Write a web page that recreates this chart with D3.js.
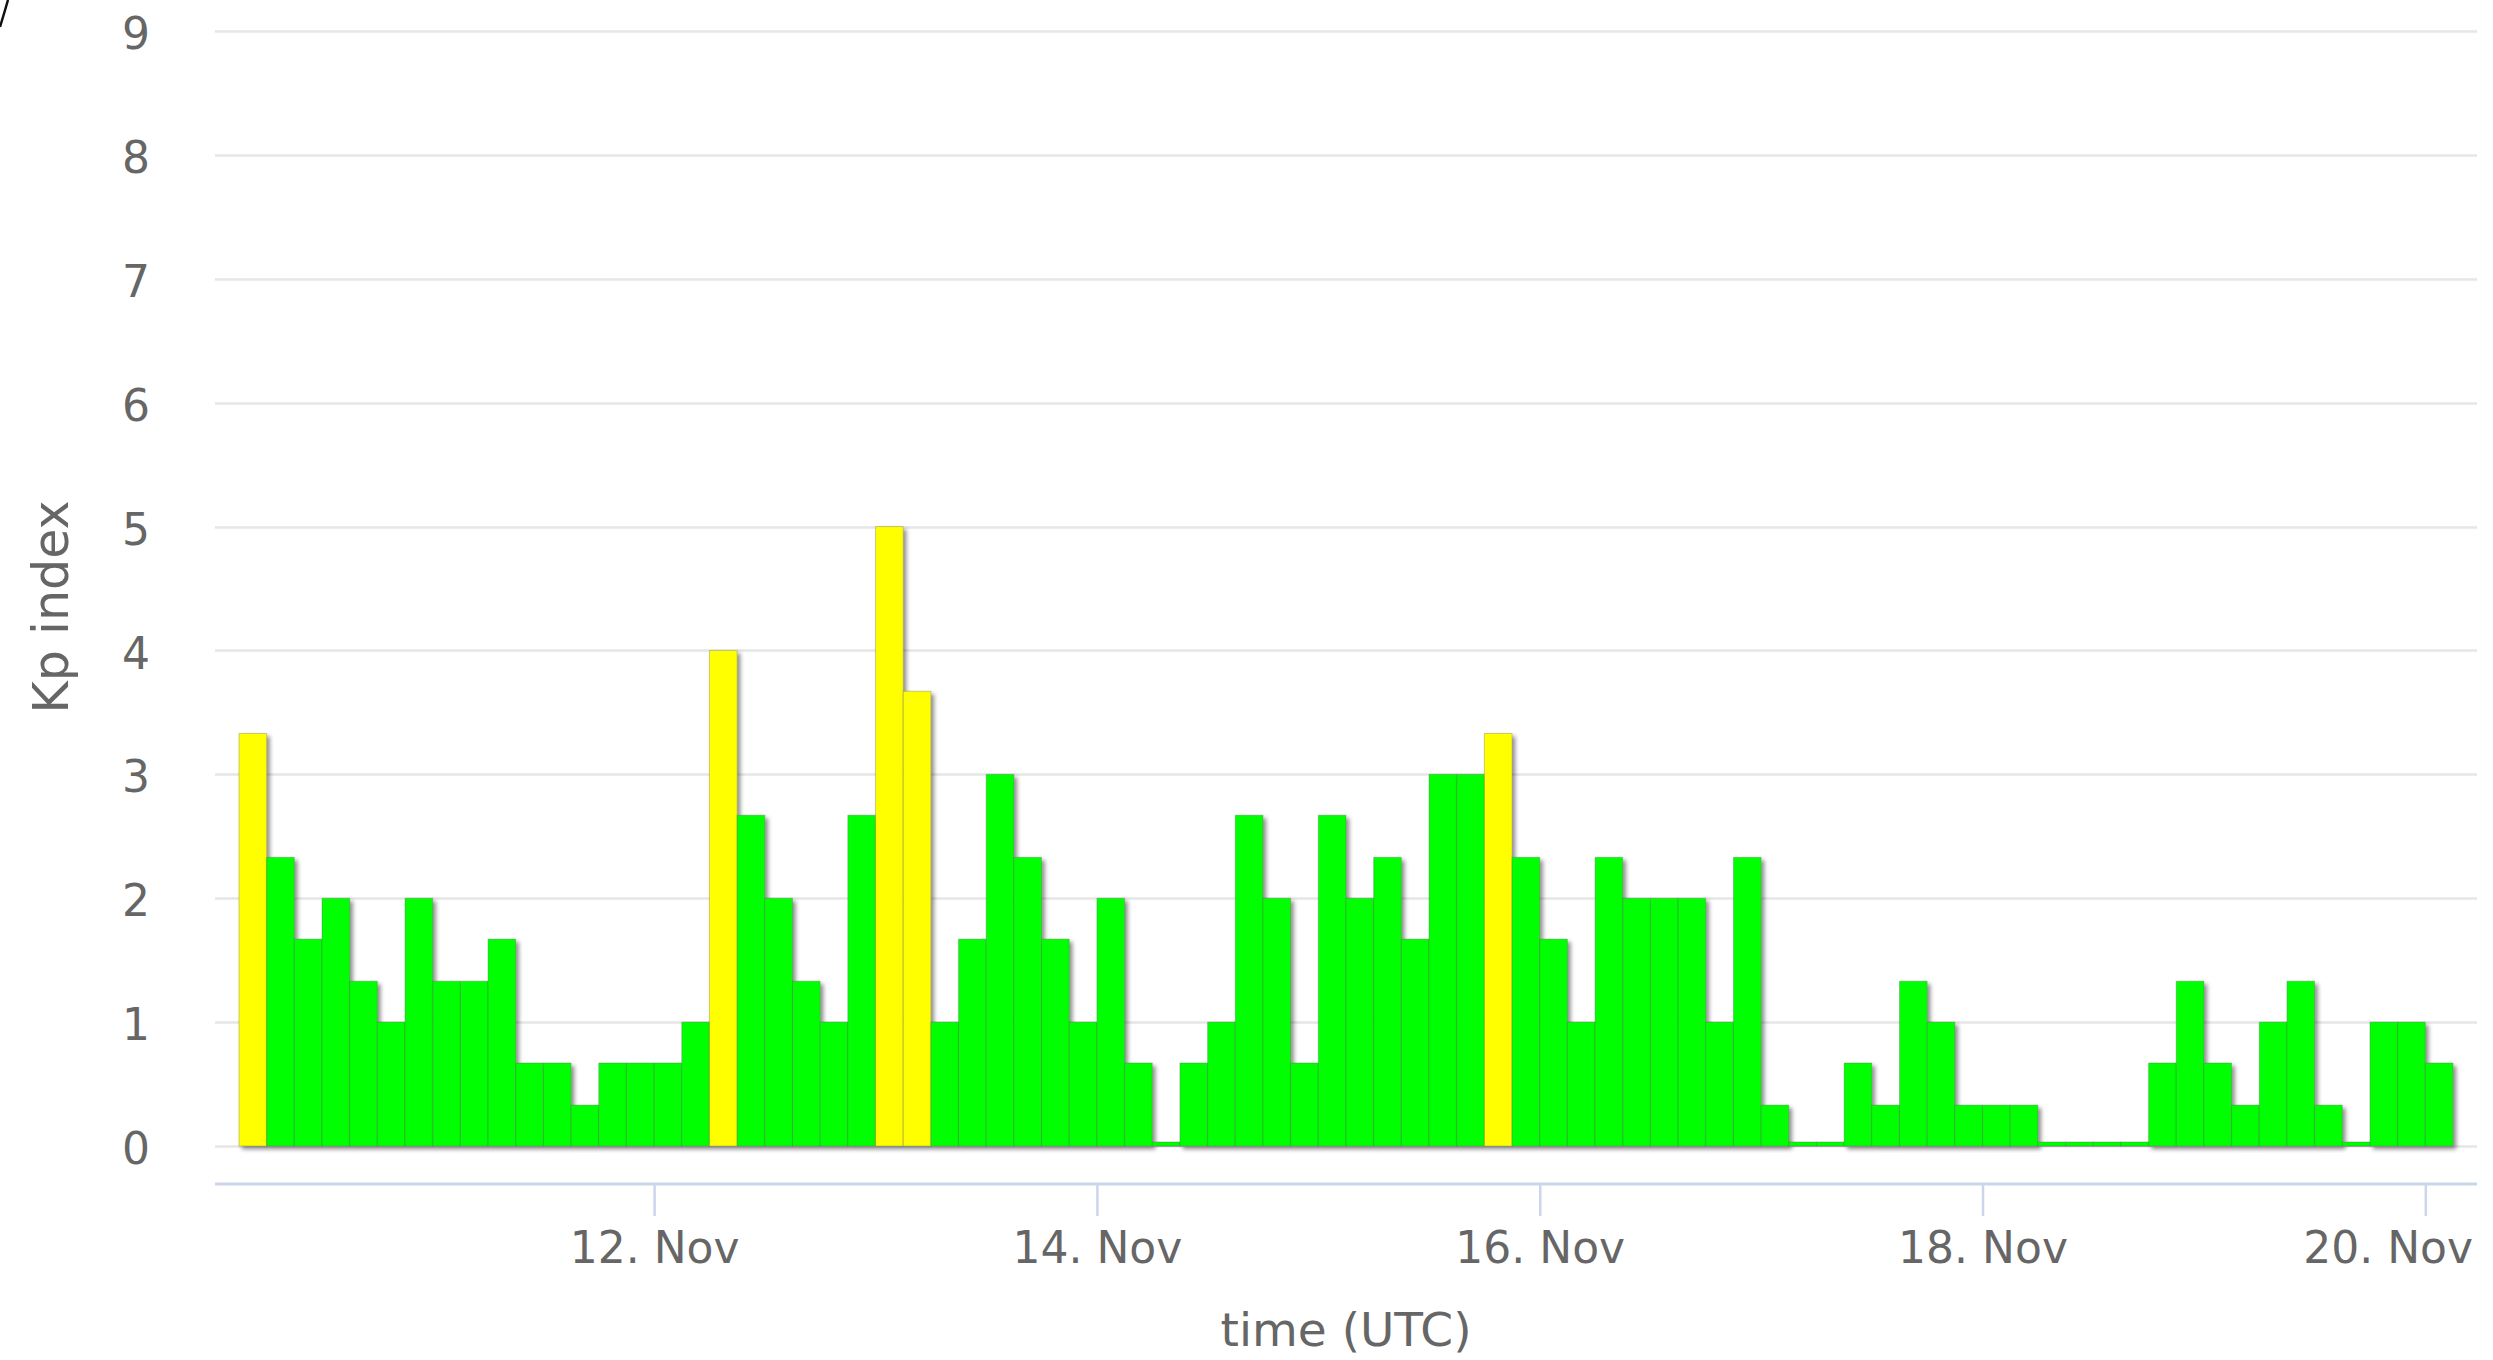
<!DOCTYPE html>
<html>
<head>
<meta charset="utf-8">
<script src="https://cdn.jsdelivr.net/npm/d3@7"></script>
<style>
  html, body { margin: 0; padding: 0; background: #ffffff; }
  svg { display: block; }
  text { font-family: "DejaVu Sans", "Lucida Grande", sans-serif; fill: #666666; }
</style>
</head>
<body>
<svg id="chart" width="2493" height="1360"></svg>
<script>
// Planetary Kp index, one value per 3-hour interval (UTC)
const firstIntervalStart = "2021-11-10T03:00:00Z";
const intervalHours = 3;
const kpValues = [
  3.33, 2.33, 1.67, 2, 1.33, 1, 2, 1.33, 1.33, 1.67,
  0.67, 0.67, 0.33, 0.67, 0.67, 0.67, 1, 4, 2.67, 2,
  1.33, 1, 2.67, 5, 3.67, 1, 1.67, 3, 2.33, 1.67,
  1, 2, 0.67, 0, 0.67, 1, 2.67, 2, 0.67, 2.67,
  2, 2.33, 1.67, 3, 3, 3.33, 2.33, 1.67, 1, 2.33,
  2, 2, 2, 1, 2.33, 0.33, 0, 0, 0.67, 0.33,
  1.33, 1, 0.33, 0.33, 0.33, 0, 0, 0, 0, 0.67,
  1.33, 0.67, 0.33, 1, 1.33, 0.33, 0, 1, 1, 0.67
];
const yTicks = [0, 1, 2, 3, 4, 5, 6, 7, 8, 9];
const xTickDates = ["2021-11-12", "2021-11-14", "2021-11-16", "2021-11-18", "2021-11-20"];
const xDomain = ["2021-11-10T00:24:00Z", "2021-11-20T05:36:00Z"];
const activityLevels = [3.2];             // from Kp 3+ upward the bar turns yellow
const levelColors = ["#00ff00", "#ffff00"];

const svg = d3.select("#chart");
const plot = { left: 215, right: 2477, top: 31, bottom: 1146 };
const axisLineY = 1184;
const minPointLength = 4;

const start = new Date(firstIntervalStart);
const bars = kpValues.map((v, i) => {
  const t0 = d3.utcHour.offset(start, i * intervalHours);
  return { t0, t1: d3.utcHour.offset(t0, intervalHours), value: v };
});

const x = d3.scaleUtc()
  .domain(xDomain.map(d => new Date(d)))
  .range([plot.left, plot.right]);
const y = d3.scaleLinear().domain([0, 9]).range([plot.bottom, plot.top]);
const color = d3.scaleThreshold().domain(activityLevels).range(levelColors);

// drop shadow for the columns
const defs = svg.append("defs");
const f = defs.append("filter").attr("id", "colShadow")
  .attr("x", "-20%").attr("y", "-5%").attr("width", "160%").attr("height", "120%");
f.append("feDropShadow").attr("dx", 3).attr("dy", 3).attr("stdDeviation", 2)
  .attr("flood-color", "#000").attr("flood-opacity", 0.45);

// horizontal grid lines
svg.append("g").selectAll("line").data(yTicks).join("line")
  .attr("x1", plot.left).attr("x2", plot.right)
  .attr("y1", d => Math.round(y(d)) + 0.5).attr("y2", d => Math.round(y(d)) + 0.5)
  .attr("stroke", "#e6e6e6").attr("stroke-width", 2.5);

// y axis labels
const yAxis = d3.axisLeft(y).tickValues(yTicks).tickSize(0).tickPadding(0).tickFormat(d3.format("d"));
const yG = svg.append("g").attr("transform", `translate(150,0)`).call(yAxis);
yG.select(".domain").remove();
yG.selectAll("text").attr("font-size", 44).attr("fill", "#666666")
  .attr("font-family", "DejaVu Sans, sans-serif").attr("dy", "0.4em");

// columns
svg.append("g").selectAll("rect").data(bars).join("rect")
  .attr("x", d => x(d.t0))
  .attr("width", d => x(d.t1) - x(d.t0))
  .attr("y", d => Math.min(y(d.value), plot.bottom - minPointLength))
  .attr("height", d => Math.max(plot.bottom - y(d.value), minPointLength))
  .attr("fill", d => color(d.value))
  .attr("stroke", "rgba(90,90,90,0.3)").attr("stroke-width", 1)
  .attr("filter", "url(#colShadow)");

// x axis
const xAxis = d3.axisBottom(x)
  .tickValues(xTickDates.map(d => new Date(d + "T00:00:00Z")))
  .tickFormat(d3.utcFormat("%-d. %b"))
  .tickSize(32).tickPadding(0).tickSizeOuter(0);
const xG = svg.append("g").attr("transform", `translate(0,${axisLineY})`).call(xAxis);
xG.select(".domain").attr("stroke", "#ccd6eb").attr("stroke-width", 3)
  .attr("d", `M${plot.left},0H${plot.right}`);
xG.selectAll(".tick line").attr("stroke", "#ccd6eb").attr("stroke-width", 2.5);
xG.selectAll(".tick text").attr("font-size", 44).attr("fill", "#666666")
  .attr("font-family", "DejaVu Sans, sans-serif")
  .attr("y", 79).attr("dy", 0);
// keep the last label inside the plot width
xG.selectAll(".tick text").each(function () {
  const bb = this.getBBox();
  const tr = this.parentNode.transform.baseVal.consolidate().matrix.e;
  const right = tr + bb.x + bb.width;
  if (right > plot.right - 4) d3.select(this).attr("x", plot.right - 4 - right);
});

// axis titles
svg.append("text")
  .attr("x", (plot.left + plot.right) / 2).attr("y", 1346)
  .attr("text-anchor", "middle").attr("font-size", 47)
  .text("time (UTC)");
svg.append("text")
  .attr("transform", "translate(68,607) rotate(-90)")
  .attr("text-anchor", "middle").attr("font-size", 49)
  .text("Kp index");

// frame edge in the top-left corner
svg.append("path").attr("d", "M8,0 Q4,14 0,27")
  .attr("fill", "none").attr("stroke", "#111").attr("stroke-width", 2.5);
</script>
</body>
</html>
